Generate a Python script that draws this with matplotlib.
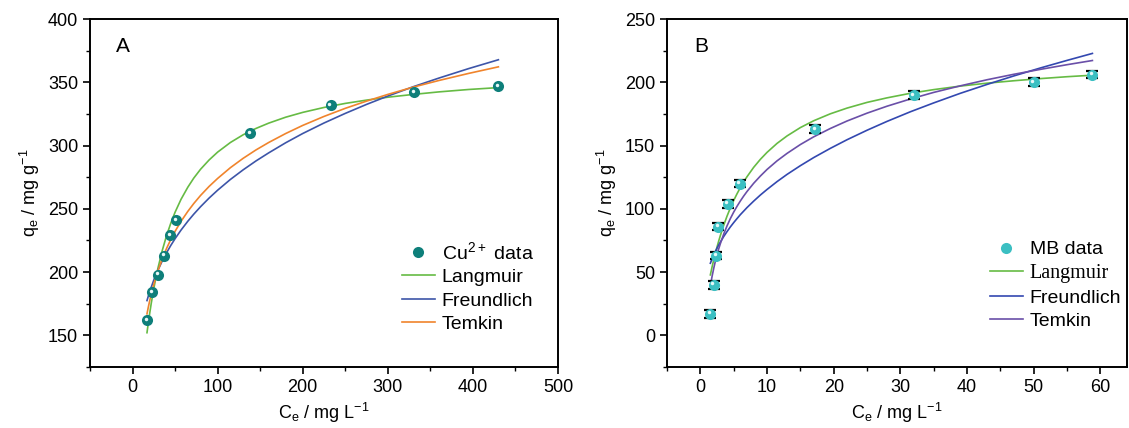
import matplotlib
matplotlib.use("Agg")
import matplotlib.pyplot as plt
import matplotlib.transforms as mtransforms
from matplotlib.ticker import MultipleLocator

plt.rcParams["font.family"] = ["Liberation Sans", "DejaVu Sans"]
plt.rcParams["mathtext.default"] = "regular"

# Panel A: Cu2+ isotherm
cu_ce = [17, 23, 30, 37, 44, 51, 138, 233, 331, 430]
cu_qe = [162, 184, 198, 213, 229, 241, 310, 332, 342, 347]

cu_fit_ce = [17, 18.5, 20, 22, 25, 27, 30, 35, 40, 45, 50, 57, 65, 72, 80, 90, 100,
             115, 130, 145, 160, 180, 200, 225, 250, 275, 300, 330, 360, 395, 430]
cu_langmuir = [152.1, 159.6, 166.6, 175.3, 187.0, 194.0, 203.5, 217.2, 228.8, 238.7,
               247.3, 257.5, 267.1, 274.3, 281.3, 288.6, 294.8, 302.4, 308.5, 313.5,
               317.7, 322.4, 326.2, 330.1, 333.3, 335.9, 338.2, 340.4, 342.4, 344.3, 345.8]
cu_freundlich = [177.5, 180.9, 184.1, 188.1, 193.7, 197.0, 201.7, 208.9, 215.3, 221.1,
                 226.4, 233.2, 240.2, 245.8, 251.7, 258.5, 264.7, 273.2, 280.8, 287.8,
                 294.2, 302.2, 309.5, 317.8, 325.4, 332.5, 339.1, 346.5, 353.3, 360.8, 367.8]
cu_temkin = [167.0, 172.1, 176.8, 182.6, 190.3, 195.0, 201.3, 210.6, 218.7, 225.8,
             232.2, 240.1, 248.0, 254.2, 260.6, 267.7, 274.0, 282.5, 289.9, 296.5,
             302.4, 309.5, 315.9, 323.0, 329.4, 335.1, 340.4, 346.2, 351.4, 357.0, 362.2]

# Panel B: MB isotherm
mb_ce = [1.5, 2.0, 2.4, 2.7, 4.1, 5.9, 17.2, 32.0, 50.0, 58.8]
mb_qe = [17, 40, 63, 86, 104, 120, 163, 190, 200, 206]
mb_err = [3, 3, 3, 3, 3, 3, 3, 3, 3, 3]

mb_fit_ce = [1.5, 1.75, 2, 2.25, 2.5, 2.75, 3, 3.5, 4, 4.5, 5, 5.5, 6, 6.5, 7, 8, 9, 10,
             11.5, 13, 15, 17, 19.5, 22, 25, 28, 31.5, 35, 39, 43, 47, 51, 55, 58.8]
mb_langmuir = [47.8, 53.9, 59.6, 64.9, 69.8, 74.5, 78.9, 87.0, 94.2, 100.7, 106.6, 111.9,
               116.8, 121.3, 125.4, 132.8, 139.1, 144.6, 151.7, 157.6, 164.2, 169.6,
               175.1, 179.6, 184.1, 187.7, 191.3, 194.2, 197.0, 199.3, 201.2, 202.9,
               204.4, 205.6]
mb_freundlich = [57.0, 60.3, 63.4, 66.2, 68.9, 71.4, 73.7, 78.1, 82.0, 85.7, 89.1, 92.3,
                 95.4, 98.2, 101.0, 106.1, 110.9, 115.3, 121.5, 127.2, 134.1, 140.5,
                 147.8, 154.6, 162.1, 169.1, 176.7, 183.7, 191.3, 198.3, 205.0, 211.3,
                 217.3, 222.8]
mb_temkin_ce = [1.6, 1.75, 2, 2.25, 2.5, 2.75, 3, 3.5, 4, 4.5, 5, 5.5, 6, 6.5, 7, 8, 9, 10,
                11.5, 13, 15, 17, 19.5, 22, 25, 28, 31.5, 35, 39, 43, 47, 51, 55, 58.8]
mb_temkin = [42.0, 46.4, 52.8, 58.6, 63.7, 68.3, 72.5, 80.0, 86.5, 92.3, 97.4, 102.0,
             106.2, 110.1, 113.7, 120.2, 125.9, 131.1, 137.9, 143.8, 150.8, 156.9,
             163.5, 169.4, 175.6, 181.1, 186.8, 192.0, 197.2, 202.0, 206.3, 210.2,
             213.9, 217.2]

fig = plt.figure(figsize=(11.29, 4.28), dpi=100)
ax_a = fig.add_axes([0.0797, 0.1425, 0.4145, 0.8131])
ax_b = fig.add_axes([0.5908, 0.1425, 0.4075, 0.8131])


def style_axis(ax):
    for s in ax.spines.values():
        s.set_linewidth(1.4)
    ax.tick_params(which="both", direction="out", top=False, right=False, labelsize=13)
    ax.tick_params(which="major", length=5, width=1.2)
    ax.tick_params(which="minor", length=3, width=1.0)


def sphere_points(ax, x, y, color, label, size=8):
    ax.plot(x, y, "o", color=color, markersize=size, markeredgewidth=0, label=label, zorder=4)
    shift = mtransforms.ScaledTranslation(-1.0 / 72, 1.0 / 72, fig.dpi_scale_trans)
    ax.plot(x, y, "o", color="#e8f8f8", markersize=2.5, markeredgewidth=0,
            transform=ax.transData + shift, zorder=5)


order = [3, 0, 1, 2]
leg_kw = dict(loc="upper left", frameon=False, fontsize=14, handlelength=1.7,
              handletextpad=0.35, labelspacing=0.3, borderaxespad=0)

# ---- A ----
style_axis(ax_a)
ax_a.plot(cu_fit_ce, cu_langmuir, color="#66bb44", lw=1.2, label="Langmuir", zorder=3)
ax_a.plot(cu_fit_ce, cu_freundlich, color="#3d55a8", lw=1.2, label="Freundlich", zorder=3)
ax_a.plot(cu_fit_ce, cu_temkin, color="#f0842c", lw=1.2, label="Temkin", zorder=3)
sphere_points(ax_a, cu_ce, cu_qe, "#0e7f7a", "Cu$^{2+}$ data")
ax_a.set_xlim(-50, 500)
ax_a.set_ylim(125, 400)
ax_a.xaxis.set_major_locator(MultipleLocator(100))
ax_a.xaxis.set_minor_locator(MultipleLocator(50))
ax_a.yaxis.set_major_locator(MultipleLocator(50))
ax_a.yaxis.set_minor_locator(MultipleLocator(25))
ax_a.set_xlabel("C$_e$ / mg L$^{-1}$", fontsize=13)
ax_a.set_ylabel("q$_e$ / mg g$^{-1}$", fontsize=13)
ax_a.text(0.055, 0.92, "A", transform=ax_a.transAxes, fontsize=15, va="center", ha="left")
h, l = ax_a.get_legend_handles_labels()
ax_a.legend([h[i] for i in order], [l[i] for i in order],
            bbox_to_anchor=(0.65, 0.385), **leg_kw)

# ---- B ----
style_axis(ax_b)
ax_b.plot(mb_fit_ce, mb_langmuir, color="#66bb44", lw=1.2, label="Langmuir", zorder=3)
ax_b.plot(mb_fit_ce, mb_freundlich, color="#3348b0", lw=1.2, label="Freundlich", zorder=3)
ax_b.plot(mb_temkin_ce, mb_temkin, color="#6a4fa8", lw=1.2, label="Temkin", zorder=3)
ax_b.errorbar(mb_ce, mb_qe, yerr=mb_err, fmt="none", ecolor="black", elinewidth=1.0,
              capsize=4, capthick=1.6, zorder=3.5)
sphere_points(ax_b, mb_ce, mb_qe, "#3bbfc2", "MB data")
ax_b.set_xlim(-5, 64)
ax_b.set_ylim(-25, 250)
ax_b.xaxis.set_major_locator(MultipleLocator(10))
ax_b.xaxis.set_minor_locator(MultipleLocator(5))
ax_b.yaxis.set_major_locator(MultipleLocator(50))
ax_b.yaxis.set_minor_locator(MultipleLocator(25))
ax_b.set_xlabel("C$_e$ / mg L$^{-1}$", fontsize=13)
ax_b.set_ylabel("q$_e$ / mg g$^{-1}$", fontsize=13)
ax_b.text(0.059, 0.92, "B", transform=ax_b.transAxes, fontsize=15, va="center", ha="left")
h, l = ax_b.get_legend_handles_labels()
leg = ax_b.legend([h[i] for i in order], [l[i] for i in order],
                  bbox_to_anchor=(0.685, 0.385), **leg_kw)
leg.get_texts()[1].set_family("Liberation Serif")
leg.get_texts()[1].set_fontsize(14.5)

fig.savefig("out.png", dpi=100)
